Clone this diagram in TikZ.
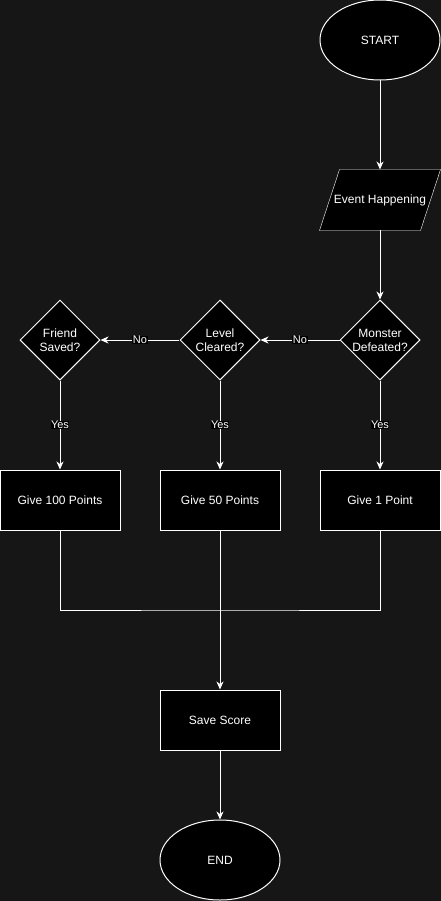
\documentclass[tikz,border=0pt]{standalone}
\usepackage{fontspec}
\setmainfont{Liberation Sans}
\usetikzlibrary{shapes.geometric,arrows.meta,backgrounds}
\definecolor{bgdark}{RGB}{22,22,22}
\tikzset{
  blk/.style={draw=white,fill=black,text=white,line width=1pt,inner sep=0pt,font=\fontsize{12}{14}\selectfont,align=center},
  procbox/.style={blk,rectangle,minimum width=120pt,minimum height=60pt},
  termin/.style={blk,ellipse,minimum width=120pt,minimum height=80pt},
  decide/.style={blk,diamond,minimum width=80pt,minimum height=80pt},
  iobox/.style={blk,draw=none,fill=none,rectangle,minimum width=100pt,minimum height=60pt},
  lbl/.style={fill=black,text=white,inner sep=0.5pt,font=\fontsize{11}{13}\selectfont},
}
\begin{document}
\begin{tikzpicture}[x=1pt,y=-1pt,>={Stealth[length=8pt,width=7pt,inset=2.5pt]},line width=1pt]
  \useasboundingbox(0,0)rectangle(441,901);
  \node[termin](start)at(380,40){START};
  \node[iobox](event)at(380,200){Event Happening};
  \node[decide](monster)at(380,340){Monster\\Defeated?};
  \node[decide](level)at(220,340){Level\\Cleared?};
  \node[decide](friend)at(60,340){Friend\\Saved?};
  \node[procbox](give1)at(380,500){Give 1 Point};
  \node[procbox](give50)at(220,500){Give 50 Points};
  \node[procbox](give100)at(60,500){Give 100 Points};
  \node[procbox](save)at(220,720){Save Score};
  \node[termin](finish)at(220,860){END};
  \coordinate(merge)at(220,610);
  \begin{scope}[on background layer]
    \fill[bgdark](0,0)rectangle(441,901);
    % slanted input box
    \filldraw[fill=black,draw=white]([xshift=-10pt]event.south west)--([xshift=10pt]event.north west)
      --([xshift=10pt]event.north east)--([xshift=-10pt]event.south east)--cycle;
  \end{scope}
  \begin{scope}[draw=white]
    \draw[->](start)--(event);
    \draw[->](event)--(monster);
    \draw[->](monster)--node[lbl]{No}(level);
    \draw[->](level)--node[lbl]{No}(friend);
    \draw[->](monster)--node[lbl]{Yes}(give1);
    \draw[->](level)--node[lbl]{Yes}(give50);
    \draw[->](friend)--node[lbl]{Yes}(give100);
    \draw(give100.south)|-(merge)-|(give1.south);
    \draw[->](give50)--(save);
    \draw[->](save)--(finish);
  \end{scope}
\end{tikzpicture}
\end{document}
